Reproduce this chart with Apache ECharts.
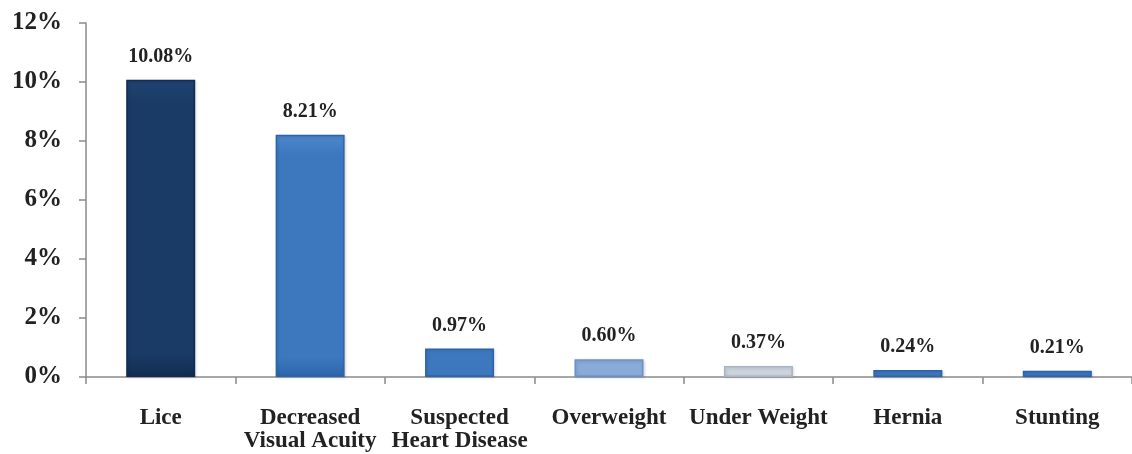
<!DOCTYPE html>
<html><head><meta charset="utf-8">
<script src="https://cdn.jsdelivr.net/npm/echarts@6/dist/echarts.min.js"></script>
<style>html,body{margin:0;padding:0;background:#fff}#c{width:1132px;height:454px}</style>
</head><body><div id="c"></div>
<script>
const categories = ['Lice', 'Decreased\nVisual Acuity', 'Suspected\nHeart Disease', 'Overweight', 'Under Weight', 'Hernia', 'Stunting'];
const values = [10.08, 8.21, 0.97, 0.60, 0.37, 0.24, 0.21];
// [top, middle, bottom/edge]
const barColors = [
  ['#1f4373', '#1a3b66', '#122c52'],
  ['#4d87cb', '#3d78bf', '#2b64aa'],
  ['#4d87cb', '#3d78bf', '#2b64aa'],
  ['#a9c4e6', '#88abd8', '#6a91c5'],
  ['#e3e8ef', '#cbd3de', '#a9b5c5'],
  ['#4d87cb', '#3d78bf', '#2b64aa'],
  ['#4d87cb', '#3d78bf', '#2b64aa']
];
const yTicks = [0, 2, 4, 6, 8, 10, 12];

const font = '"Liberation Serif", "Times New Roman", serif';
const chart = echarts.init(document.getElementById('c'));
chart.setOption({
  animation: false,
  grid: { left: 86, top: 23, width: 1050, height: 354 },
  xAxis: {
    type: 'category',
    data: categories,
    axisLine: { lineStyle: { color: '#8a8a8a', width: 1.5 } },
    axisTick: { show: true, length: 7, lineStyle: { color: '#8a8a8a', width: 1.5 } },
    axisLabel: { color: '#222', fontFamily: font, fontWeight: 'bold', fontSize: 23, lineHeight: 23.5, margin: 29, interval: 0 }
  },
  yAxis: {
    type: 'value', min: 0, max: 12, interval: 2,
    splitLine: { show: false },
    axisLine: { show: true, lineStyle: { color: '#8a8a8a', width: 1.5 } },
    axisTick: { show: true, length: 7, lineStyle: { color: '#8a8a8a', width: 1.5 } },
    axisLabel: { color: '#222', fontFamily: font, fontWeight: 'bold', fontSize: 25, margin: 24,
      formatter: v => yTicks.includes(v) ? v + '%' : '' }
  },
  series: [{
    type: 'bar',
    barWidth: 69,
    data: values.map((v, i) => ({
      value: v,
      itemStyle: {
        color: new echarts.graphic.LinearGradient(0, 0, 0, 1, [
          { offset: 0, color: barColors[i][0] },
          { offset: 0.08, color: barColors[i][1] },
          { offset: 0.92, color: barColors[i][1] },
          { offset: 1, color: barColors[i][2] }
        ]),
        borderColor: barColors[i][2], borderWidth: 1.5,
        shadowColor: 'rgba(0,0,0,0.15)', shadowBlur: 3, shadowOffsetX: 1, shadowOffsetY: 1
      }
    })),
    label: {
      show: true, position: 'top', distance: 13,
      color: '#222', fontFamily: font, fontWeight: 'bold', fontSize: 20,
      formatter: p => p.value.toFixed(2) + '%'
    }
  }]
});
</script></body></html>
